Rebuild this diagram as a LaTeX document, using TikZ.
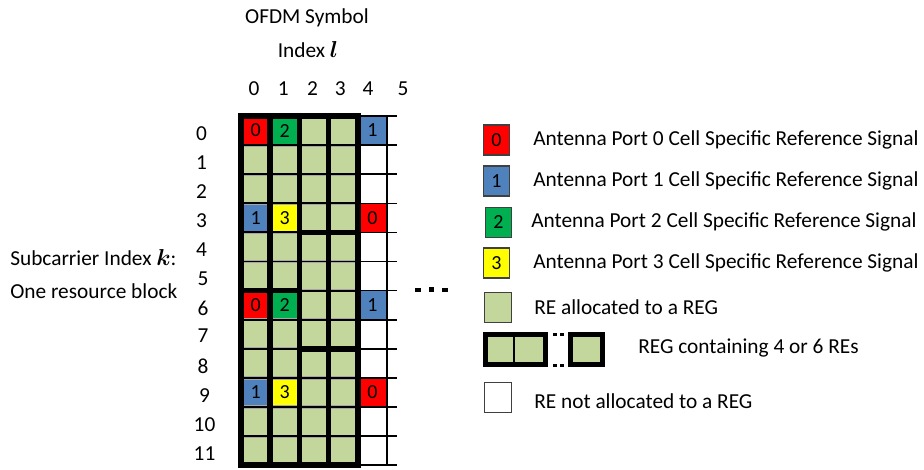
\documentclass[tikz,border=0pt]{standalone}
\usepackage{fontspec}
\usepackage{amsmath}
\setmainfont{Carlito}
\definecolor{regfill}{HTML}{C3D69B}
\definecolor{rsred}{HTML}{FF0000}
\definecolor{rsblue}{HTML}{4F81BD}
\definecolor{rsgreen}{HTML}{00B050}
\definecolor{rsyellow}{HTML}{FFFF00}

\begin{document}
\begin{tikzpicture}[x=0.75pt, y=-0.75pt,
        txt/.style={font=\fontsize{16}{19}\selectfont, inner sep=0pt},
        rs/.style={font=\fontsize{15}{18}\selectfont, inner sep=0pt, minimum width=21.9pt, minimum height=21.8pt},
        rowline/.style={draw=gray!70, double=black, double distance=1.4pt, line width=0.5pt},
        openline/.style={black, line width=1.2pt},
        regline/.style={black, line width=4.1pt},
        legbox/.style={draw=black!75, line width=0.9pt, inner sep=0pt, minimum width=20pt, minimum height=22.5pt, font=\fontsize{15}{18}\selectfont},
        legtxt/.style={txt, anchor=west}]
    \useasboundingbox (0,0) rectangle (924,469);

    \node[txt] (ofdm) at (307,18) {OFDM Symbol};
    \node[txt] (index) at (308,50) {Index $\boldsymbol{l}$};
    \node[legtxt] (subc) at (10,258) {Subcarrier Index $\boldsymbol{k}$:};
    \node[legtxt] (block) at (10,291) {One resource block};

    % resource grid, one unit = one RE
    \begin{scope}[shift={(241,116)}, x=21.9pt, y=-21.825pt]
        \fill[regfill] (0,0) rectangle (4,12);

        \node[rs, fill=rsred] (a00) at (0.5,0.5) {0};
        \node[rs, fill=rsblue] (a03) at (0.5,3.5) {1};
        \node[rs, fill=rsred] (a06) at (0.5,6.5) {0};
        \node[rs, fill=rsblue] (a09) at (0.5,9.5) {1};
        \node[rs, fill=rsgreen] (a10) at (1.5,0.5) {2};
        \node[rs, fill=rsyellow] (a13) at (1.5,3.5) {3};
        \node[rs, fill=rsgreen] (a16) at (1.5,6.5) {2};
        \node[rs, fill=rsyellow] (a19) at (1.5,9.5) {3};
        \node[rs, fill=rsblue] (a40) at (4.5,0.5) {1};
        \node[rs, fill=rsred] (a43) at (4.5,3.5) {0};
        \node[rs, fill=rsblue] (a46) at (4.5,6.5) {1};
        \node[rs, fill=rsred] (a49) at (4.5,9.5) {0};

        \draw[rowline] \foreach \r in {1,...,11} {(0,\r) -- (4,\r)};
        \draw[openline] \foreach \r in {0,...,12} {(4,\r) -- (5.34,\r)} (5,0) -- (5,12);

        % REG borders
        \draw[regline] (0,0) rectangle (4,12);
        \draw[regline] (1,0) -- (1,12);
        \draw[regline] (2,0) -- (2,12);
        \draw[regline] (3,0) -- (3,12);
        \draw[regline] (0,6) -- (2,6);
        \draw[regline] (2,4) -- (4,4);
        \draw[regline] (2,8) -- (4,8);

        \node[txt] (c0) at (0.45,-0.95) {0};
        \node[txt] (c1) at (1.45,-0.95) {1};
        \node[txt] (c2) at (2.45,-0.95) {2};
        \node[txt] (c3) at (3.4,-0.95) {3};
        \node[txt] (c4) at (4.35,-0.95) {4};
        \node[txt] (c5) at (5.55,-0.95) {5};

        \node[txt] (r0) at (-1.35,0.6) {0};
        \node[txt] (r1) at (-1.35,1.6) {1};
        \node[txt] (r2) at (-1.35,2.6) {2};
        \node[txt] (r3) at (-1.35,3.6) {3};
        \node[txt] (r4) at (-1.35,4.6) {4};
        \node[txt] (r5) at (-1.3,5.6) {5};
        \node[txt] (r6) at (-1.3,6.6) {6};
        \node[txt] (r7) at (-1.3,7.55) {7};
        \node[txt] (r8) at (-1.3,8.6) {8};
        \node[txt] (r9) at (-1.25,9.6) {9};
        \node[txt] (r10) at (-1.25,10.6) {10};
        \node[txt] (r11) at (-1.25,11.6) {11};
    \end{scope}

    \fill (415,288) rectangle (421,291.5);
    \fill (429,287) rectangle (434,291.5);
    \fill (442,288) rectangle (448,292);

    % legend
    \node[legbox, fill=rsred] (lg0) at (496.5,140) {0};
    \node[legtxt] (lt0) at (533,140) {Antenna Port 0 Cell Specific Reference Signal};
    \node[legbox, fill=rsblue] (lg1) at (496.5,181) {1};
    \node[legtxt] (lt1) at (533,181) {Antenna Port 1 Cell Specific Reference Signal};
    \node[legbox, fill=rsgreen] (lg2) at (498.5,222.5) {2};
    \node[legtxt] (lt2) at (531,222) {Antenna Port 2 Cell Specific Reference Signal};
    \node[legbox, fill=rsyellow] (lg3) at (496.5,263) {3};
    \node[legtxt] (lt3) at (533,263) {Antenna Port 3 Cell Specific Reference Signal};

    \node[legbox, fill=regfill] (lgre) at (498,307.5) {};
    \node[legtxt] (ltre) at (534,307) {RE allocated to a REG};

    \fill[regfill] (487,337) rectangle (543,363);
    \fill[regfill] (573,337) rectangle (600,363);
    \draw[openline] (514,337) -- (514,363);
    \draw[regline] (485.25,334.25) rectangle (545.75,364.75);
    \draw[regline] (570.25,334.25) rectangle (602.75,364.75);
    \fill (553,332.5) rectangle (557,336);
    \fill (560,332.5) rectangle (564,336);
    \fill (553,363.5) rectangle (557,367);
    \fill (560,363.5) rectangle (564,367);
    \node[legtxt] (ltreg) at (638,348) {REG containing 4 or 6 REs};

    \node[legbox, fill=white] (lgno) at (498,397.5) {};
    \node[legtxt] (ltno) at (534,401) {RE not allocated to a REG};
\end{tikzpicture}
\end{document}
